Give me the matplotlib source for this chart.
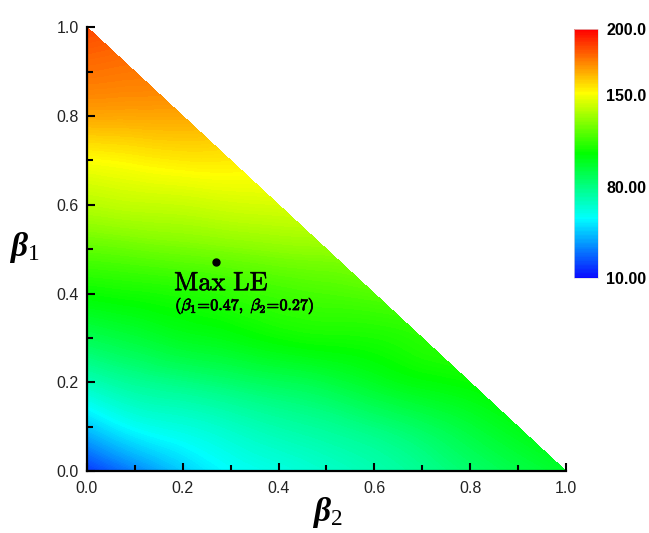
import numpy as np
import matplotlib.pyplot as plt
import matplotlib.tri as mtri
from matplotlib.colors import LinearSegmentedColormap
import matplotlib.patheffects as pe

# grid of beta2 (x) / beta1 (y)
beta2_cols = [0.0, 0.1, 0.2, 0.3, 0.4, 0.5, 0.6, 0.7, 0.8, 0.9, 1.0]
le_cols = [
    [18, 45, 69, 89, 106, 122, 138, 151, 168, 178, 186],   # beta2 = 0.0
    [32, 57, 76, 94, 108, 124, 140, 153, 168, 177],        # beta2 = 0.1
    [46, 62, 80, 99, 110, 126, 141, 155, 168],             # beta2 = 0.2
    [56, 67, 84, 102, 113, 128, 143, 155],                 # beta2 = 0.3
    [61, 72, 88, 106, 116, 130, 144],                      # beta2 = 0.4
    [66, 76, 92, 108, 118, 131],                           # beta2 = 0.5
    [71, 81, 98, 109, 120],                                # beta2 = 0.6
    [77, 87, 103, 112],                                    # beta2 = 0.7
    [84, 94, 106],                                         # beta2 = 0.8
    [91, 101],                                             # beta2 = 0.9
    [97],                                                  # beta2 = 1.0
]
beta1_step = 0.1

max_point = (0.27, 0.47)
cbar_ticks = [10, 80, 150, 200]
cbar_labels = ['10.00', '80.00', '150.0', '200.0']

plt.rcParams['mathtext.fontset'] = 'custom'
plt.rcParams['mathtext.it'] = 'Liberation Serif:italic:bold'
plt.rcParams['mathtext.rm'] = 'Liberation Serif'
plt.rcParams['font.family'] = 'Liberation Sans'

# build the scattered points
xs, ys, zs = [], [], []
for x, col in zip(beta2_cols, le_cols):
    for j, v in enumerate(col):
        xs.append(x)
        ys.append(j * beta1_step)
        zs.append(v)
xs, ys, zs = np.array(xs), np.array(ys), np.array(zs, dtype=float)

cmap = LinearSegmentedColormap.from_list(
    'le', [(0, '#0a0aff'), (0.24, '#00ffff'), (0.5, '#00ff00'),
           (0.745, '#ffff00'), (1, '#ff0000')])

fig = plt.figure(figsize=(6.49, 5.33), dpi=100)
ax = fig.add_axes([0.134, 0.116, 0.738, 0.833])

tri = mtri.Triangulation(xs, ys)
refiner = mtri.UniformTriRefiner(tri)
tri_f, z_f = refiner.refine_field(zs, subdiv=4)
cs = ax.tricontourf(tri_f, z_f, levels=np.linspace(10, 200, 191),
                    cmap=cmap, vmin=10, vmax=200)

ax.plot(*max_point, 'o', color='black', markersize=5)
ax.text(0.182, 0.423, r'$\mathrm{Max\ LE}$', math_fontfamily='cm',
        fontsize=19, va='center', ha='left',
        path_effects=[pe.withStroke(linewidth=0.4, foreground='black')])
ax.text(0.184, 0.372, r'$(\beta_1\!=\!0.47,\ \beta_2\!=\!0.27)$',
        math_fontfamily='cm', fontsize=11.5, va='center', ha='left',
        path_effects=[pe.withStroke(linewidth=0.6, foreground='black')])

ax.set_xlim(0, 1)
ax.set_ylim(0, 1)
for s in ['top', 'right']:
    ax.spines[s].set_visible(False)
for s in ['left', 'bottom']:
    ax.spines[s].set_linewidth(1.6)
ax.set_xticks(np.arange(0, 1.01, 0.2))
ax.set_yticks(np.arange(0, 1.01, 0.2))
ax.set_xticks(np.arange(0.1, 1.0, 0.2), minor=True)
ax.set_yticks(np.arange(0.1, 1.0, 0.2), minor=True)
ax.tick_params(which='both', direction='in', width=1.5, labelsize=11.5,
               labelcolor='#222222')
ax.tick_params(which='major', length=6)
ax.tick_params(which='minor', length=4)
ax.tick_params(axis='x', pad=7)
ax.tick_params(axis='y', pad=6)

fig.text(0.037, 0.535, r'$\beta_{\mathrm{1}}$', fontsize=24, ha='center', va='center')
fig.text(0.505, 0.038, r'$\beta_{\mathrm{2}}$', fontsize=24, ha='center', va='center')

cax = fig.add_axes([0.884, 0.478, 0.037, 0.467])
cb = fig.colorbar(cs, cax=cax, ticks=cbar_ticks)
cb.outline.set_edgecolor('#dddddd')
cb.outline.set_linewidth(0.5)
cb.ax.set_yticklabels(cbar_labels)
cb.ax.tick_params(length=0, pad=6, labelsize=11.5)
for t in cb.ax.get_yticklabels():
    t.set_fontweight('bold')

fig.savefig('out.png', dpi=100)
